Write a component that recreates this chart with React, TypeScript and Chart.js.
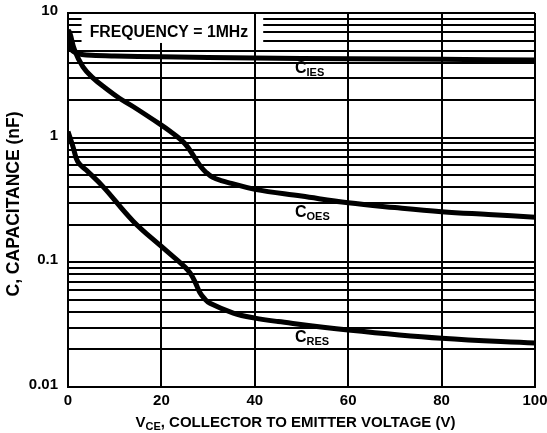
import React, { useEffect, useRef } from "react";
import { Chart, registerables } from "chart.js";

Chart.register(...registerables);

// ---- Data ----
const ciesV = [0, 0.3, 0.7, 1.2, 2, 3, 5, 10, 20, 40, 60, 80, 100];
const ciesC = [7.2, 5.6, 5.1, 4.9, 4.75, 4.65, 4.58, 4.52, 4.45, 4.35, 4.3, 4.25, 4.2];

const coesV = [0, 0.4, 1.4, 3.2, 5.4, 8, 11, 14, 20, 22, 24, 25, 26, 27.3, 28.5, 29.5, 31, 33, 35, 40, 50, 60, 70, 80, 90, 100];
const coesC = [7.3, 6.9, 5.05, 3.7, 3.0, 2.5, 2.07, 1.77, 1.26, 1.115, 0.976, 0.898, 0.804, 0.675, 0.582, 0.53, 0.48, 0.45, 0.43, 0.385, 0.34, 0.3, 0.275, 0.255, 0.242, 0.23];

const cresV = [0, 1.07, 2.1, 3.9, 7.5, 13.9, 20, 24.6, 25.5, 26.4, 27.3, 28.2, 29.2, 30.4, 35.4, 40, 45, 60, 80, 100];
const cresC = [1.12, 0.847, 0.64, 0.55, 0.405, 0.215, 0.134, 0.095, 0.088, 0.0795, 0.0684, 0.0575, 0.0512, 0.0469, 0.0392, 0.0357, 0.0335, 0.0287, 0.0246, 0.0225];

const xTicks = [0, 20, 40, 60, 80, 100];
const yDecades = [0.01, 0.1, 1, 10];
const yDecadeLabels = ["0.01", "0.1", "1", "10"];

const seriesLabels = [
  { main: "C", sub: "IES", v: 48.6, c: 3.3 },
  { main: "C", sub: "OES", v: 48.6, c: 0.231 },
  { main: "C", sub: "RES", v: 48.6, c: 0.023 },
];

const noteText = "FREQUENCY = 1MHz";
const xTitleMain = "V";
const xTitleSub = "CE";
const xTitleRest = ", COLLECTOR TO EMITTER VOLTAGE (V)";
const yTitle = "C, CAPACITANCE (nF)";

const FONT = "'Liberation Sans', Arial, Helvetica, sans-serif";

function toPoints(xs: number[], ys: number[]) {
  return xs.map((x, i) => ({ x, y: ys[i] }));
}

const overlayPlugin = {
  id: "overlay",
  beforeDatasetsDraw(chart: any) {
    const { ctx, chartArea, scales } = chart;
    const xs = scales.x;
    const ys = scales.y;
    ctx.save();
    const left = xs.getPixelForValue(2.9);
    const right = xs.getPixelForValue(41.8);
    const top = chartArea.top + 1;
    const bottom = ys.getPixelForValue(5.75);
    ctx.fillStyle = "#ffffff";
    ctx.fillRect(left, top, right - left, bottom - top);
    ctx.strokeStyle = "#000";
    ctx.lineWidth = 2;
    const x40 = Math.round(xs.getPixelForValue(40));
    ctx.beginPath();
    ctx.moveTo(x40, top);
    ctx.lineTo(x40, bottom + 1);
    ctx.stroke();
    ctx.fillStyle = "#000";
    ctx.font = `bold 15.8px ${FONT}`;
    ctx.textAlign = "left";
    ctx.textBaseline = "alphabetic";
    ctx.fillText(noteText, xs.getPixelForValue(4.65), ys.getPixelForValue(6.42));
    ctx.restore();
  },
  afterDraw(chart: any) {
    const { ctx, chartArea, scales } = chart;
    const xs = scales.x;
    const ys = scales.y;
    ctx.save();
    ctx.fillStyle = "#000";
    ctx.textBaseline = "alphabetic";
    ctx.textAlign = "left";
    for (const lab of seriesLabels) {
      const px = xs.getPixelForValue(lab.v);
      const py = ys.getPixelForValue(lab.c);
      ctx.font = `bold 16px ${FONT}`;
      ctx.fillText(lab.main, px, py);
      const w = ctx.measureText(lab.main).width;
      ctx.font = `bold 11px ${FONT}`;
      ctx.fillText(lab.sub, px + w, py + 3);
    }
    ctx.font = `bold 15px ${FONT}`;
    const wV = ctx.measureText(xTitleMain).width;
    const wR = ctx.measureText(xTitleRest).width;
    ctx.font = `bold 11px ${FONT}`;
    const wS = ctx.measureText(xTitleSub).width;
    const total = wV + wS + wR;
    const cx = (chartArea.left + chartArea.right) / 2 - 6;
    let x0 = cx - total / 2;
    const by = 427;
    ctx.font = `bold 15px ${FONT}`;
    ctx.fillText(xTitleMain, x0, by);
    x0 += wV;
    ctx.font = `bold 11px ${FONT}`;
    ctx.fillText(xTitleSub, x0, by + 3);
    x0 += wS;
    ctx.font = `bold 15px ${FONT}`;
    ctx.fillText(xTitleRest, x0, by);
    ctx.translate(14, 204);
    ctx.rotate(-Math.PI / 2);
    ctx.font = `bold 17.5px ${FONT}`;
    ctx.textAlign = "center";
    ctx.textBaseline = "middle";
    ctx.fillText(yTitle, 0, 0);
    ctx.restore();
  },
};

export default function App() {
  const ref = useRef<HTMLCanvasElement | null>(null);
  useEffect(() => {
    if (!ref.current) return;
    const lineStyle = {
      borderColor: "#000",
      borderWidth: 5,
      pointRadius: 0,
      fill: false,
      tension: 0.4,
    };
    const chart = new Chart(ref.current, {
      type: "line",
      data: {
        datasets: [
          { label: "CIES", data: toPoints(ciesV, ciesC), ...lineStyle },
          { label: "COES", data: toPoints(coesV, coesC), ...lineStyle },
          { label: "CRES", data: toPoints(cresV, cresC), ...lineStyle },
        ],
      },
      options: {
        animation: false,
        responsive: false,
        devicePixelRatio: 1,
        layout: { padding: { top: 13, right: 12, left: 0, bottom: 0 } },
        plugins: {
          legend: { display: false },
          tooltip: { enabled: false },
        },
        scales: {
          x: {
            type: "linear",
            min: 0,
            max: 100,
            afterBuildTicks: (scale: any) => {
              scale.ticks = xTicks.map((v) => ({ value: v }));
            },
            afterFit: (scale: any) => {
              scale.height = 46;
              scale.paddingLeft = 0;
              scale.paddingRight = 0;
            },
            ticks: {
              color: "#000",
              font: { family: FONT, size: 15, weight: "bold" },
              padding: 5,
              maxRotation: 0,
              autoSkip: false,
            },
            grid: { color: "#000", lineWidth: 2, drawTicks: false },
            border: { color: "#000", width: 2 },
          },
          y: {
            type: "logarithmic",
            min: 0.01,
            max: 10,
            afterBuildTicks: (scale: any) => {
              const t: { value: number }[] = [];
              for (let d = 0; d < yDecades.length - 1; d++) {
                for (let m = 1; m <= 9; m++) {
                  t.push({ value: parseFloat((yDecades[d] * m).toPrecision(6)) });
                }
              }
              t.push({ value: yDecades[yDecades.length - 1] });
              scale.ticks = t;
            },
            afterFit: (scale: any) => {
              scale.width = 68;
              scale.paddingTop = 0;
              scale.paddingBottom = 0;
            },
            ticks: {
              color: "#000",
              font: { family: FONT, size: 15, weight: "bold" },
              padding: 10,
              autoSkip: false,
              labelOffset: -2,
              callback: (value: any) => {
                const i = yDecades.findIndex((d) => Math.abs(d - Number(value)) < d * 1e-6);
                return i >= 0 ? yDecadeLabels[i] : "";
              },
            },
            grid: { color: "#000", lineWidth: 2, drawTicks: false },
            border: { color: "#000", width: 2 },
          },
        },
      },
      plugins: [overlayPlugin],
    });
    return () => chart.destroy();
  }, []);
  return (
    <div style={{ position: "absolute", left: 0, top: 0, width: 547, height: 433, background: "#fff" }}>
      <canvas ref={ref} width={547} height={433} />
    </div>
  );
}
